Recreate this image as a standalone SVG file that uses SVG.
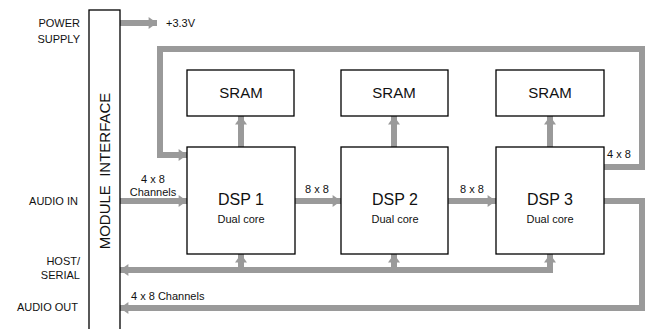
<svg xmlns="http://www.w3.org/2000/svg" width="650" height="329" viewBox="0 0 650 329">
<style>
text{font-family:"Liberation Sans",Arial,sans-serif;fill:#111}
.box{fill:#fff;stroke:#000;stroke-width:1.3}
.c{fill:none;stroke:#9a9a9a;stroke-width:6}
.a{marker-end:url(#ah)}
.s{font-size:11px}
.m{text-anchor:middle}
.r{text-anchor:end}
</style>
<defs>
<marker id="ah" markerUnits="userSpaceOnUse" markerWidth="10" markerHeight="12" refX="7" refY="5" orient="auto" viewBox="0 0 7 10">
<path d="M0,0 L7,5 L0,10 Z" fill="#9a9a9a"/>
</marker>
</defs>
<rect width="650" height="329" fill="#fff"/>
<g id="connectors">
<path class="c a" d="M120,23 H157"/>
<path class="c a" d="M604,167 H642 V49 H160 V155 H187"/>
<path class="c a" d="M120,201 H187"/>
<path class="c a" d="M295,201 H341"/>
<path class="c a" d="M448,201 H496"/>
<path class="c a" d="M241,147 V116"/>
<path class="c a" d="M394,147 V116"/>
<path class="c a" d="M550,147 V116"/>
<path class="c a" d="M553,270 H120"/>
<path class="c a" d="M241,270 V254"/>
<path class="c a" d="M394,270 V254"/>
<path class="c a" d="M550,270 V254"/>
<path class="c a" d="M604,201 H642 V308 H120"/>
</g>
<g id="module-interface">
<rect class="box" x="89" y="10" width="31" height="325"/>
<text font-size="15" class="m" transform="translate(110,171) rotate(-90)" xml:space="preserve">MODULE  INTERFACE</text>
</g>
<g id="sram1"><rect class="box" x="187" y="70" width="107" height="46"/><text x="241" y="98" font-size="15" class="m">SRAM</text></g>
<g id="sram2"><rect class="box" x="341" y="70" width="107" height="46"/><text x="394" y="98" font-size="15" class="m">SRAM</text></g>
<g id="sram3"><rect class="box" x="496" y="70" width="108" height="46"/><text x="550" y="98" font-size="15" class="m">SRAM</text></g>
<g id="dsp1"><rect class="box" x="187" y="147" width="108" height="107"/><text x="241" y="205" font-size="16" class="m">DSP 1</text><text x="241" y="223" class="s m">Dual core</text></g>
<g id="dsp2"><rect class="box" x="341" y="147" width="107" height="107"/><text x="395" y="205" font-size="16" class="m">DSP 2</text><text x="395" y="223" class="s m">Dual core</text></g>
<g id="dsp3"><rect class="box" x="496" y="147" width="108" height="107"/><text x="550" y="205" font-size="16" class="m">DSP 3</text><text x="550" y="223" class="s m">Dual core</text></g>
<g id="labels">
<text x="80" y="27" class="s r">POWER</text>
<text x="80" y="43" class="s r">SUPPLY</text>
<text x="78" y="205" class="s r">AUDIO IN</text>
<text x="80" y="265" class="s r">HOST/</text>
<text x="80" y="279" class="s r">SERIAL</text>
<text x="78" y="311" class="s r">AUDIO OUT</text>
<text x="166" y="27" class="s">+3.3V</text>
<text x="153" y="183" class="s m">4 x 8</text>
<text x="153" y="196" class="s m">Channels</text>
<text x="317" y="193" class="s m">8 x 8</text>
<text x="472" y="193" class="s m">8 x 8</text>
<text x="607" y="158" class="s">4 x 8</text>
<text x="131" y="300" class="s">4 x 8 Channels</text>
</g>
</svg>
